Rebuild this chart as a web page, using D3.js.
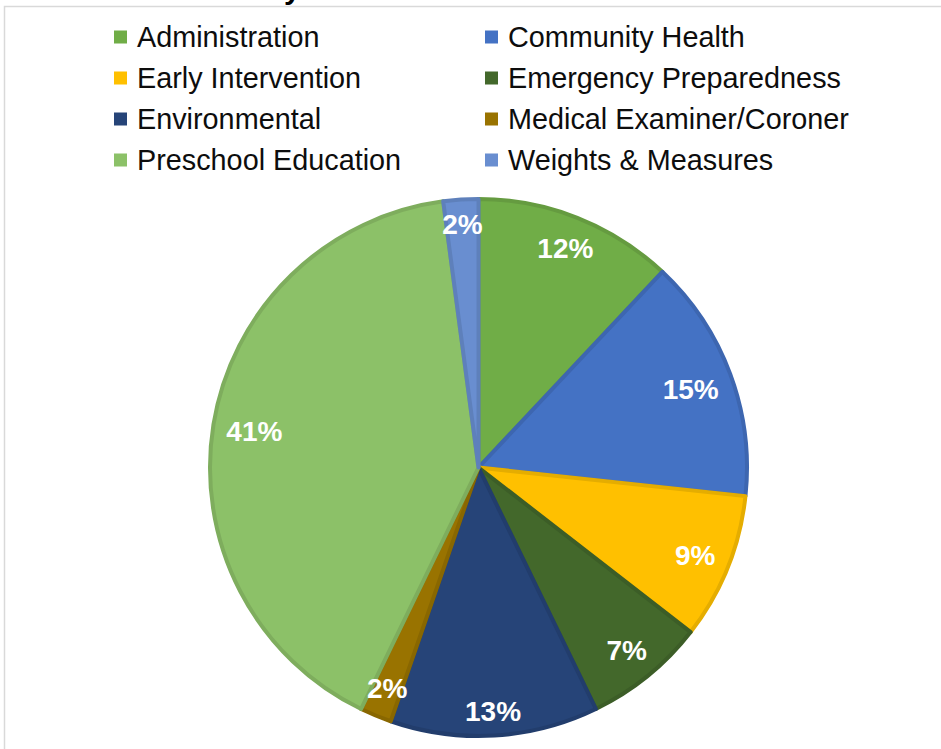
<!DOCTYPE html>
<html>
<head>
<meta charset="utf-8">
<script src="https://cdn.jsdelivr.net/npm/d3@7"></script>
<style>
  html, body { margin: 0; padding: 0; background: #ffffff; }
  svg { display: block; }
</style>
</head>
<body>
<svg id="chart" width="941" height="749"></svg>
<script>
// ---- data ----
const categories = [
  "Administration", "Community Health", "Early Intervention", "Emergency Preparedness",
  "Environmental", "Medical Examiner/Coroner", "Preschool Education", "Weights & Measures"
];
const shares = [12.0, 14.7, 8.8, 7.3, 12.5, 1.9, 40.7, 2.1];
const colors = ["#70AD47", "#4472C4", "#FFC000", "#43682B", "#264478", "#997300", "#8CC168", "#698ED0"];

const svg = d3.select("#chart");
const W = 941, H = 749;
const font = "'Liberation Sans', Arial, Helvetica, sans-serif";

// frame
svg.append("path")
  .attr("d", `M4.5,${H + 5} L4.5,6.5 L${W + 5},6.5`)
  .attr("fill", "none").attr("stroke", "#d9d9d9").attr("stroke-width", 1.5);

// clipped title descender (title above visible area)
svg.append("text")
  .attr("x", 284).attr("y", -1)
  .attr("font-family", font).attr("font-weight", "bold").attr("font-size", 30)
  .attr("fill", "#000").text("y");

// ---- legend ----
const legend = svg.append("g");
const colX = [114, 485];
const rowY = [37, 78, 119, 160];
categories.forEach((c, i) => {
  const col = i % 2, row = Math.floor(i / 2);
  const g = legend.append("g").attr("transform", `translate(${colX[col]},${rowY[row]})`);
  g.append("rect").attr("x", 0).attr("y", -6.5).attr("width", 13).attr("height", 13).attr("fill", colors[i]);
  g.append("text").attr("x", 23).attr("y", 0).attr("dy", "0.35em")
    .attr("font-family", font).attr("font-size", 28.8).attr("fill", "#0d0d0d").text(c);
});

// ---- pie ----
const cx = 478.5, cy = 467.5, R = 268.5;
const pie = d3.pie().value(d => d).sort(null);
const arcs = pie(shares);
const arc = d3.arc().innerRadius(0).outerRadius(R);
const g = svg.append("g").attr("transform", `translate(${cx},${cy})`);

g.selectAll("path.slice").data(arcs).enter().append("path")
  .attr("class", "slice")
  .attr("d", arc)
  .attr("fill", (d, i) => colors[i])
  .attr("stroke", (d, i) => d3.color(colors[i]).darker(0.3))
  .attr("stroke-width", 4)
  .attr("stroke-linejoin", "round");

// labels: "inside end" placement
const labels = g.selectAll("text.lbl").data(arcs).enter().append("text")
  .attr("class", "lbl")
  .attr("text-anchor", "middle").attr("dy", "0.35em")
  .attr("font-family", font).attr("font-weight", "bold").attr("font-size", 28)
  .attr("fill", "#ffffff")
  .text(d => Math.round(d.data) + "%");

labels.each(function(d) {
  const bb = this.getBBox();
  const a = (d.startAngle + d.endAngle) / 2;
  const hw = bb.width / 2, hh = 11;
  const ext = hw * Math.abs(Math.sin(a)) + hh * Math.abs(Math.cos(a));
  const dist = R + 2 - 14 - ext;
  d3.select(this).attr("x", dist * Math.sin(a)).attr("y", -dist * Math.cos(a));
});
</script>
</body>
</html>
